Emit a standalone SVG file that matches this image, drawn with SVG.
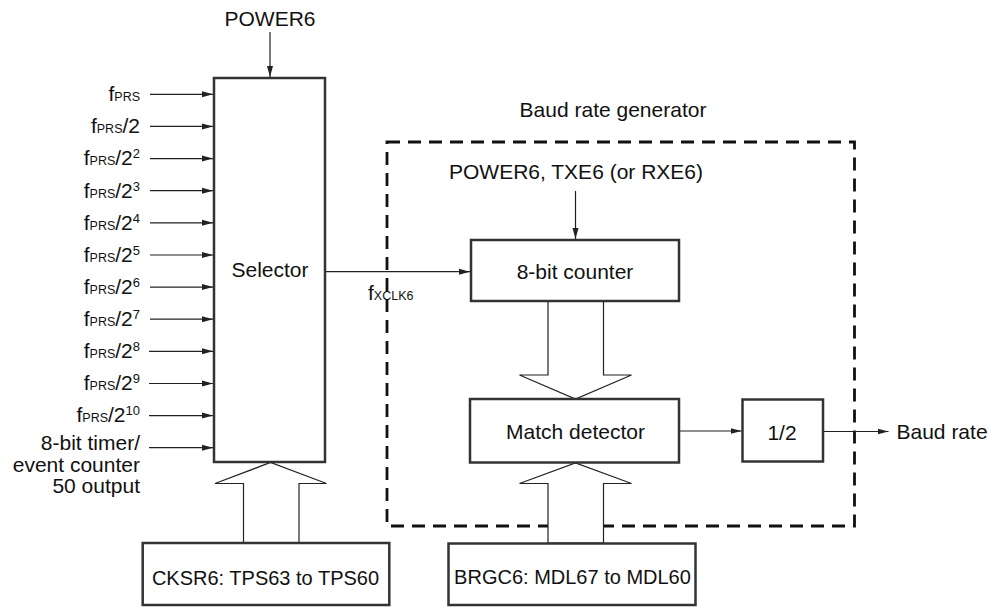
<svg xmlns="http://www.w3.org/2000/svg" width="991" height="607" viewBox="0 0 991 607">
<style>
text{font-family:"Liberation Sans",Arial,sans-serif;font-size:21px;fill:#111}
.sm{font-size:20px}
.sub{font-size:12.5px}
.sup{font-size:13px}
.box{fill:#fff;stroke:#333;stroke-width:2.5}
.ln{fill:none;stroke:#222;stroke-width:1.2}
.hol{fill:#fff;stroke:#222;stroke-width:1.2;stroke-linejoin:miter}
.dash{fill:none;stroke:#111;stroke-width:2.8;stroke-dasharray:13 8}
</style>
<defs>
<marker id="ah" markerUnits="userSpaceOnUse" markerWidth="11" markerHeight="8" refX="11" refY="4" orient="auto">
<path d="M0,1 L11,4 L0,7 z" fill="#222"/>
</marker>
</defs>
<rect id="bg" x="0" y="0" width="991" height="607" fill="#fff"/>

<g id="baud-rate-generator">
<rect class="dash" x="387" y="142" width="467.5" height="384"/>
<text x="613" y="117" text-anchor="middle">Baud rate generator</text>
</g>

<g id="connectors">
<line class="ln" x1="270" y1="32" x2="270" y2="77" marker-end="url(#ah)"/>
<line class="ln" x1="150" y1="94.3" x2="213" y2="94.3" marker-end="url(#ah)"/>
<line class="ln" x1="150" y1="126.4" x2="213" y2="126.4" marker-end="url(#ah)"/>
<line class="ln" x1="150" y1="158.6" x2="213" y2="158.6" marker-end="url(#ah)"/>
<line class="ln" x1="150" y1="190.7" x2="213" y2="190.7" marker-end="url(#ah)"/>
<line class="ln" x1="150" y1="222.8" x2="213" y2="222.8" marker-end="url(#ah)"/>
<line class="ln" x1="150" y1="255" x2="213" y2="255" marker-end="url(#ah)"/>
<line class="ln" x1="150" y1="287.1" x2="213" y2="287.1" marker-end="url(#ah)"/>
<line class="ln" x1="150" y1="319.2" x2="213" y2="319.2" marker-end="url(#ah)"/>
<line class="ln" x1="149" y1="351.3" x2="213" y2="351.3" marker-end="url(#ah)"/>
<line class="ln" x1="149" y1="383.5" x2="213" y2="383.5" marker-end="url(#ah)"/>
<line class="ln" x1="149" y1="415.6" x2="213" y2="415.6" marker-end="url(#ah)"/>
<line class="ln" x1="149" y1="447.7" x2="213" y2="447.7" marker-end="url(#ah)"/>
<line class="ln" x1="325" y1="271.7" x2="470" y2="271.7" marker-end="url(#ah)"/>
<line class="ln" x1="575.5" y1="191" x2="575.5" y2="239" marker-end="url(#ah)"/>
<line class="ln" x1="679" y1="431" x2="741.5" y2="431" marker-end="url(#ah)"/>
<line class="ln" x1="823" y1="431.5" x2="888.5" y2="431.5" marker-end="url(#ah)"/>
<polygon class="hol" points="243.5,543 243.5,483.5 215,483.5 270.5,462.5 326.5,483.5 299,483.5 299,543"/>
<polygon class="hol" points="548,301 548,375 519.5,375 575.5,399 631.5,375 603.5,375 603.5,301"/>
<polygon class="hol" points="548,543 548,483.5 519.5,483.5 575.5,463 631.5,483.5 603.5,483.5 603.5,543"/>
</g>

<g id="inputs">
<text x="270" y="26" text-anchor="middle">POWER6</text>
<text x="140" y="101" text-anchor="end">f<tspan class="sub">PRS</tspan></text>
<text x="140" y="133.2" text-anchor="end">f<tspan class="sub">PRS</tspan>/2</text>
<text x="140" y="165.4" text-anchor="end">f<tspan class="sub">PRS</tspan>/2<tspan class="sup" dy="-7">2</tspan></text>
<text x="140" y="197.5" text-anchor="end">f<tspan class="sub">PRS</tspan>/2<tspan class="sup" dy="-7">3</tspan></text>
<text x="140" y="229.6" text-anchor="end">f<tspan class="sub">PRS</tspan>/2<tspan class="sup" dy="-7">4</tspan></text>
<text x="140" y="261.8" text-anchor="end">f<tspan class="sub">PRS</tspan>/2<tspan class="sup" dy="-7">5</tspan></text>
<text x="140" y="293.9" text-anchor="end">f<tspan class="sub">PRS</tspan>/2<tspan class="sup" dy="-7">6</tspan></text>
<text x="140" y="326" text-anchor="end">f<tspan class="sub">PRS</tspan>/2<tspan class="sup" dy="-7">7</tspan></text>
<text x="140" y="358.1" text-anchor="end">f<tspan class="sub">PRS</tspan>/2<tspan class="sup" dy="-7">8</tspan></text>
<text x="140" y="390.3" text-anchor="end">f<tspan class="sub">PRS</tspan>/2<tspan class="sup" dy="-7">9</tspan></text>
<text x="140" y="422.4" text-anchor="end">f<tspan class="sub">PRS</tspan>/2<tspan class="sup" dy="-7">10</tspan></text>
<text x="140" y="450" text-anchor="end">8-bit timer/</text>
<text x="140" y="471.5" text-anchor="end">event counter</text>
<text x="140" y="493" text-anchor="end">50 output</text>
<text x="368" y="299.5">f<tspan class="sub">XCLK6</tspan></text>
<text x="576" y="178.5" text-anchor="middle">POWER6, TXE6 (or RXE6)</text>
</g>

<g id="selector">
<rect class="box" x="214" y="78" width="111" height="384"/>
<text x="270" y="277" text-anchor="middle">Selector</text>
</g>

<g id="counter">
<rect class="box" x="471" y="240" width="208" height="61"/>
<text x="575" y="279" text-anchor="middle">8-bit counter</text>
</g>

<g id="match-detector">
<rect class="box" x="470" y="399" width="209" height="63.5"/>
<text x="575.5" y="438.5" text-anchor="middle">Match detector</text>
</g>

<g id="divider">
<rect class="box" x="742.5" y="399.5" width="80.5" height="62"/>
<text x="782" y="439.5" text-anchor="middle">1/2</text>
</g>

<g id="baud-rate-out">
<text x="896.5" y="439">Baud rate</text>
</g>

<g id="cksr6">
<rect class="box" x="142.7" y="543" width="246.6" height="62"/>
<text class="sm" x="265.5" y="584.5" text-anchor="middle">CKSR6: TPS63 to TPS60</text>
</g>

<g id="brgc6">
<rect class="box" x="448.5" y="543.5" width="247" height="61.5"/>
<text class="sm" x="572.5" y="584" text-anchor="middle">BRGC6: MDL67 to MDL60</text>
</g>
</svg>
